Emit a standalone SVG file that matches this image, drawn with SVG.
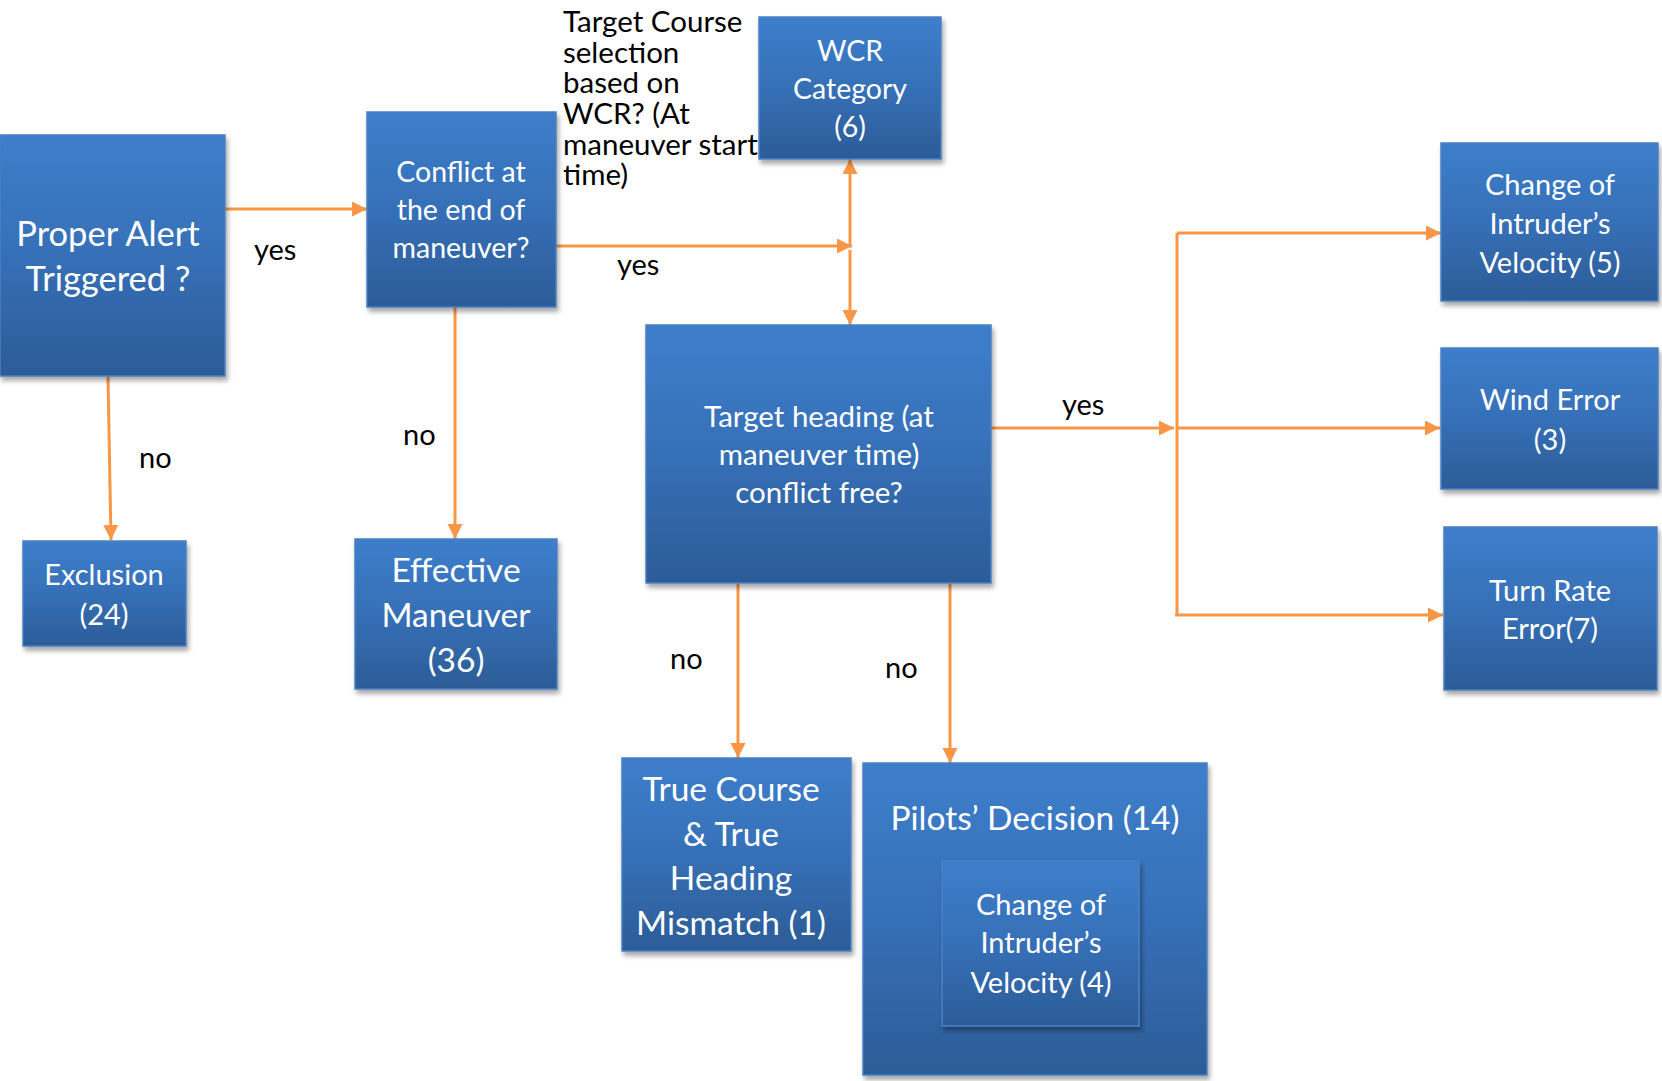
<svg xmlns="http://www.w3.org/2000/svg" width="1662" height="1081" viewBox="0 0 1662 1081">
  <defs>
    <linearGradient id="boxFill" x1="0" y1="0" x2="0" y2="1">
      <stop offset="0" stop-color="#3d7ecb"/>
      <stop offset="0.5" stop-color="#3670b7"/>
      <stop offset="1" stop-color="#2c5c97"/>
    </linearGradient>
    <filter id="shadow" x="-10%" y="-10%" width="125%" height="125%">
      <feDropShadow dx="2" dy="4" stdDeviation="2.5" flood-color="#000" flood-opacity="0.35"/>
    </filter>
    <marker id="arrow" markerUnits="userSpaceOnUse" markerWidth="16" markerHeight="16" refX="15" refY="7.5" orient="auto">
      <path d="M0,0 L15,7.5 L0,15 z" fill="#f79646"/>
    </marker>
    <style>
      .box { fill: url(#boxFill); stroke: #4a80c2; stroke-width: 1.5; filter: url(#shadow); }
      .lbl { font-family: Lato, "Liberation Sans", sans-serif; fill: #ffffff; text-anchor: middle; }
      .note { font-family: Lato, "Liberation Sans", sans-serif; fill: #000000; }
      .edge { fill: none; stroke: #f79646; stroke-width: 3; }
      .arr { marker-end: url(#arrow); }
      .s28 { font-size: 28.5px; }
      .s29 { font-size: 29px; }
      .s30 { font-size: 29.5px; }
      .s34 { font-size: 33.5px; }
      .s35 { font-size: 34.5px; }
    </style>
  </defs>

  <rect width="1662" height="1081" fill="#ffffff"/>

  <!-- free-standing question text beside the WCR node (drawn first, partly covered by the node) -->
  <g id="wcr-question" class="note s30">
    <text x="563" y="32">Target Course</text>
    <text x="563" y="63">selection</text>
    <text x="563" y="93">based on</text>
    <text x="563" y="124">WCR? (At</text>
    <text x="563" y="155">maneuver start</text>
    <text x="563" y="185">time)</text>
  </g>

  <!-- connectors -->
  <g id="connectors">
    <path class="edge arr" d="M225 209 H367"/>
    <path class="edge arr" d="M108 376 L111 540"/>
    <path class="edge arr" d="M455 307 V539"/>
    <path class="edge arr" d="M556 246 H852"/>
    <path class="edge arr" d="M850 247 V159"/>
    <path class="edge arr" d="M850 250 V325"/>
    <path class="edge arr" d="M991 428 H1174"/>
    <path class="edge" d="M1177 233 V615"/>
    <path class="edge arr" d="M1177 233 H1441"/>
    <path class="edge arr" d="M1177 428 H1440"/>
    <path class="edge arr" d="M1175 615 H1443"/>
    <path class="edge arr" d="M738 583 V758"/>
    <path class="edge arr" d="M950 583 V763"/>
  </g>

  <!-- connector labels -->
  <g id="edge-labels" class="note s29">
    <text x="254" y="260">yes</text>
    <text x="617" y="275">yes</text>
    <text x="1062" y="415">yes</text>
    <text x="139" y="468">no</text>
    <text x="403" y="445">no</text>
    <text x="670" y="669">no</text>
    <text x="885" y="678">no</text>
  </g>

  <g id="proper-alert">
    <rect class="box" x="0" y="135" width="225" height="241"/>
    <text class="lbl s35" x="108" y="246">Proper Alert</text>
    <text class="lbl s35" x="108" y="291">Triggered ?</text>
  </g>

  <g id="conflict-end">
    <rect class="box" x="367" y="112" width="189" height="195"/>
    <text class="lbl s28" x="461" y="182">Conflict at</text>
    <text class="lbl s28" x="461" y="220">the end of</text>
    <text class="lbl s28" x="461" y="258">maneuver?</text>
  </g>

  <g id="wcr-category">
    <rect class="box" x="759" y="17" width="182" height="142"/>
    <text class="lbl s28" x="850" y="61">WCR</text>
    <text class="lbl s28" x="850" y="99">Category</text>
    <text class="lbl s28" x="850" y="137">(6)</text>
  </g>

  <g id="target-heading">
    <rect class="box" x="646" y="325" width="345" height="258"/>
    <text class="lbl s30" x="819" y="427">Target heading (at</text>
    <text class="lbl s30" x="819" y="465">maneuver time)</text>
    <text class="lbl s30" x="819" y="503">conflict free?</text>
  </g>

  <g id="exclusion">
    <rect class="box" x="23" y="541" width="163" height="105"/>
    <text class="lbl s29" x="104" y="585">Exclusion</text>
    <text class="lbl s29" x="104" y="625">(24)</text>
  </g>

  <g id="effective-maneuver">
    <rect class="box" x="355" y="539" width="202" height="150"/>
    <text class="lbl s34" x="456" y="582">Effective</text>
    <text class="lbl s34" x="456" y="627">Maneuver</text>
    <text class="lbl s34" x="456" y="672">(36)</text>
  </g>

  <g id="intruder-velocity-5">
    <rect class="box" x="1441" y="143" width="217" height="158"/>
    <text class="lbl s29" x="1550" y="195">Change of</text>
    <text class="lbl s29" x="1550" y="234">Intruder’s</text>
    <text class="lbl s29" x="1550" y="273">Velocity (5)</text>
  </g>

  <g id="wind-error">
    <rect class="box" x="1441" y="348" width="217" height="141"/>
    <text class="lbl s29" x="1550" y="410">Wind Error</text>
    <text class="lbl s29" x="1550" y="450">(3)</text>
  </g>

  <g id="turn-rate-error">
    <rect class="box" x="1444" y="527" width="213" height="163"/>
    <text class="lbl s29" x="1550" y="601">Turn Rate</text>
    <text class="lbl s29" x="1550" y="639">Error(7)</text>
  </g>

  <g id="course-heading-mismatch">
    <rect class="box" x="622" y="758" width="229" height="193"/>
    <text class="lbl s34" x="731" y="801">True Course</text>
    <text class="lbl s34" x="731" y="846">&amp; True</text>
    <text class="lbl s34" x="731" y="890">Heading</text>
    <text class="lbl s34" x="731" y="935">Mismatch (1)</text>
  </g>

  <g id="pilots-decision">
    <rect class="box" x="863" y="763" width="344" height="312"/>
    <text class="lbl s34" x="1035" y="830">Pilots’ Decision (14)</text>
    <g id="intruder-velocity-4">
      <rect class="box" x="942" y="861" width="197" height="165"/>
      <text class="lbl s29" x="1041" y="915">Change of</text>
      <text class="lbl s29" x="1041" y="953">Intruder’s</text>
      <text class="lbl s29" x="1041" y="993">Velocity (4)</text>
    </g>
  </g>
</svg>
